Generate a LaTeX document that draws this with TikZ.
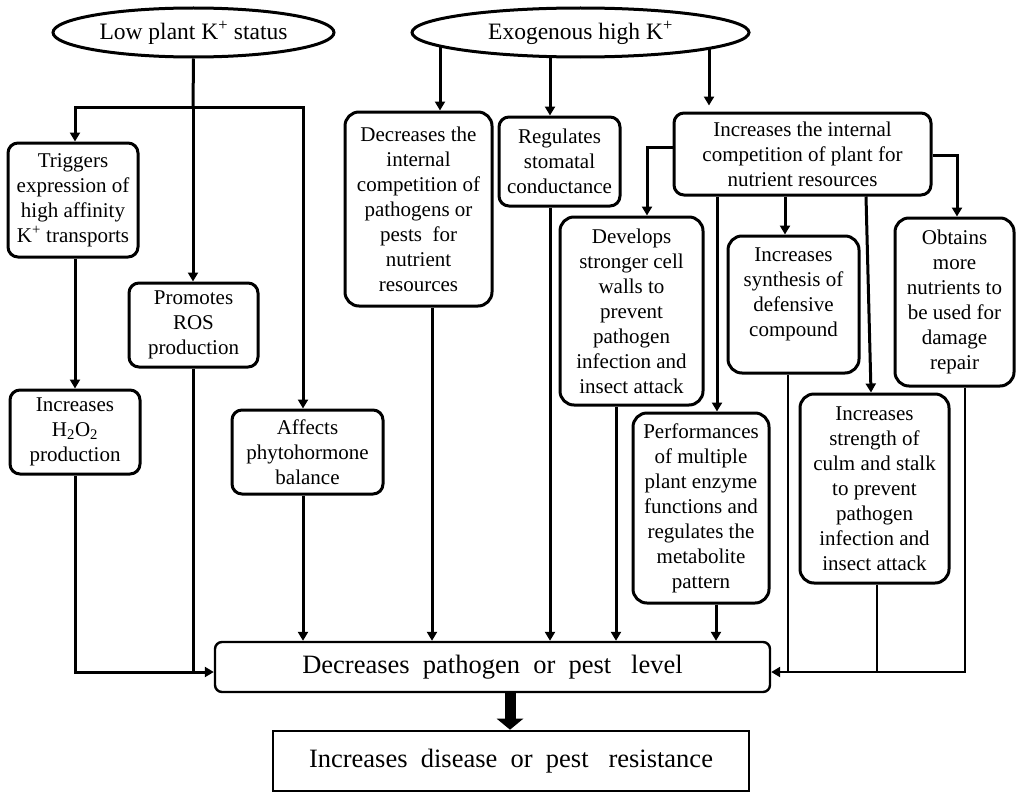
\documentclass[tikz,border=0pt]{standalone}
\usepackage{fontspec}
\setmainfont{Liberation Serif}
\usetikzlibrary{arrows.meta,shapes.geometric}
\pgfdeclarelayer{bg}
\pgfsetlayers{bg,main}
\begin{document}
\begin{tikzpicture}[x=1pt,y=-1pt,
  box/.style={draw, fill=white, line width=3pt, rounded corners=10pt, align=center, inner sep=0pt, font=\fontsize{21}{25}\selectfont},
  oval/.style={draw, fill=white, ellipse, line width=3pt, inner sep=0pt, font=\fontsize{23.5}{28}\selectfont},
  conn/.style={line width=3pt},
  arr/.style={conn, -{Triangle[width=10pt,length=9pt]}},
  big/.style={draw, fill=white, align=center, inner sep=0pt, font=\fontsize{26.5}{30}\selectfont}
]
\useasboundingbox (0,0) rectangle (1024,800);
% ovals
\node[oval, minimum width=281pt, minimum height=49pt] (low) at (193.5,32.5) {Low plant K\textsuperscript{+} status};
\node[oval, minimum width=337pt, minimum height=49pt] (exo) at (580.5,32.5) {Exogenous high K\textsuperscript{+}};
% left boxes
\node[box, minimum width=130pt, minimum height=114pt] (trig) at (73,200) {Triggers\\expression of\\high affinity\\K\textsuperscript{+} transports};
\node[box, minimum width=130pt, minimum height=84pt] (h2o2) at (75,432) {Increases\\H\textsubscript{2}O\textsubscript{2}\\production};
\node[box, minimum width=129pt, minimum height=84pt] (ros) at (193.5,325) {Promotes\\ROS\\production};
\node[box, minimum width=151pt, minimum height=84pt] (aff) at (307.5,452) {Affects\\phytohormone\\balance};
% middle boxes
\node[box, rounded corners=14pt, minimum width=147pt, minimum height=194pt] (dec1) at (418.5,209) {Decreases the\\internal\\competition of\\pathogens or\\pests\ \ for\\nutrient\\resources};
\node[box, minimum width=121pt, minimum height=89pt] (reg) at (559.5,161.5) {Regulates\\stomatal\\conductance};
\node[box, minimum width=257pt, minimum height=82pt] (inc) at (802.5,154) {Increases the internal\\competition of plant for\\nutrient resources};
\node[box, rounded corners=14pt, minimum width=143pt, minimum height=188pt] (dev) at (631.5,311) {Develops\\stronger cell\\walls to\\prevent\\pathogen\\infection and\\insect attack};
\node[box, rounded corners=14pt, minimum width=131pt, minimum height=137pt] (syn) at (793.5,304.5) {Increases\\synthesis of\\defensive\\compound\\\mbox{}};
\node[box, rounded corners=14pt, minimum width=119pt, minimum height=168pt] (obt) at (954.5,302) {Obtains\\more\\nutrients to\\be used for\\damage\\repair};
\node[box, rounded corners=14pt, minimum width=136pt, minimum height=190pt] (perf) at (701,508) {Performances\\of multiple\\plant enzyme\\functions and\\regulates the\\metabolite\\pattern};
\node[box, rounded corners=14pt, minimum width=149pt, minimum height=189pt] (str) at (874.5,488.5) {Increases\\strength of\\culm and stalk\\to prevent\\pathogen\\infection and\\insect attack};
% bottom boxes
\node[big, line width=2.4pt, rounded corners=7pt, minimum width=555pt, minimum height=50pt] (lvl) at (492.5,667) {Decreases\ \ pathogen\ \ or\ \ pest\ \ \ level};
\node[big, line width=2.6pt, minimum width=476pt, minimum height=60pt] (res) at (511,761) {Increases\ \ disease\ \ or\ \ pest\ \ \ resistance};
% connectors
\begin{pgfonlayer}{bg}
\fill[white] (0,0) rectangle (1024,800);
\coordinate (jl) at (193,107);
\draw[conn] (low.south) -- (jl);
\draw[arr] (jl) -| (75,0 |- trig.north);
\draw[arr] (jl) -| (303,0 |- aff.north);
\draw[arr] (jl) -- (193,0 |- ros.north);
\draw[arr] (75,0 |- trig.south) -- (75,0 |- h2o2.north);
\draw[arr] (75,0 |- h2o2.south) |- (lvl.west |- 0,672);
\draw[conn] (193,0 |- ros.south) -- (193,672);
\draw[arr] (303,0 |- aff.south) -- (303,0 |- lvl.north);
\draw[arr] (440,0 |- exo.center) -- (440,0 |- dec1.north);
\draw[arr] (550,0 |- exo.center) -- (550,0 |- reg.north);
\draw[arr, shorten >=6pt] (709,0 |- exo.center) -- (709,0 |- inc.north);
\draw[arr] (432,0 |- dec1.south) -- (432,0 |- lvl.north);
\draw[arr] (550,0 |- reg.south) -- (550,0 |- lvl.north);
\draw[arr] (inc.west |- 0,147) -| (647,0 |- dev.north);
\draw[arr] (inc.east |- 0,155) -| (957,0 |- obt.north);
\draw[arr] (717,0 |- inc.south) -- (717,0 |- perf.north);
\draw[arr] (785,0 |- inc.south) -- (785,0 |- syn.north);
\draw[arr] (866,0 |- inc.south) -- (871,0 |- str.north);
\draw[arr] (616,0 |- dev.south) -- (616,0 |- lvl.north);
\draw[arr] (716,0 |- perf.south) -- (716,0 |- lvl.north);
\draw[conn, line width=2.6pt] (788,0 |- syn.south) -- (788,672);
\draw[conn, line width=2.6pt] (877,0 |- str.south) -- (877,672);
\draw[arr, line width=2.6pt] (965,0 |- obt.south) |- (lvl.east |- 0,672);
\draw[line width=11pt, -{Triangle[width=26pt,length=11pt]}] (510,0 |- lvl.south) -- (510,0 |- res.north);
\end{pgfonlayer}
\end{tikzpicture}
\end{document}
